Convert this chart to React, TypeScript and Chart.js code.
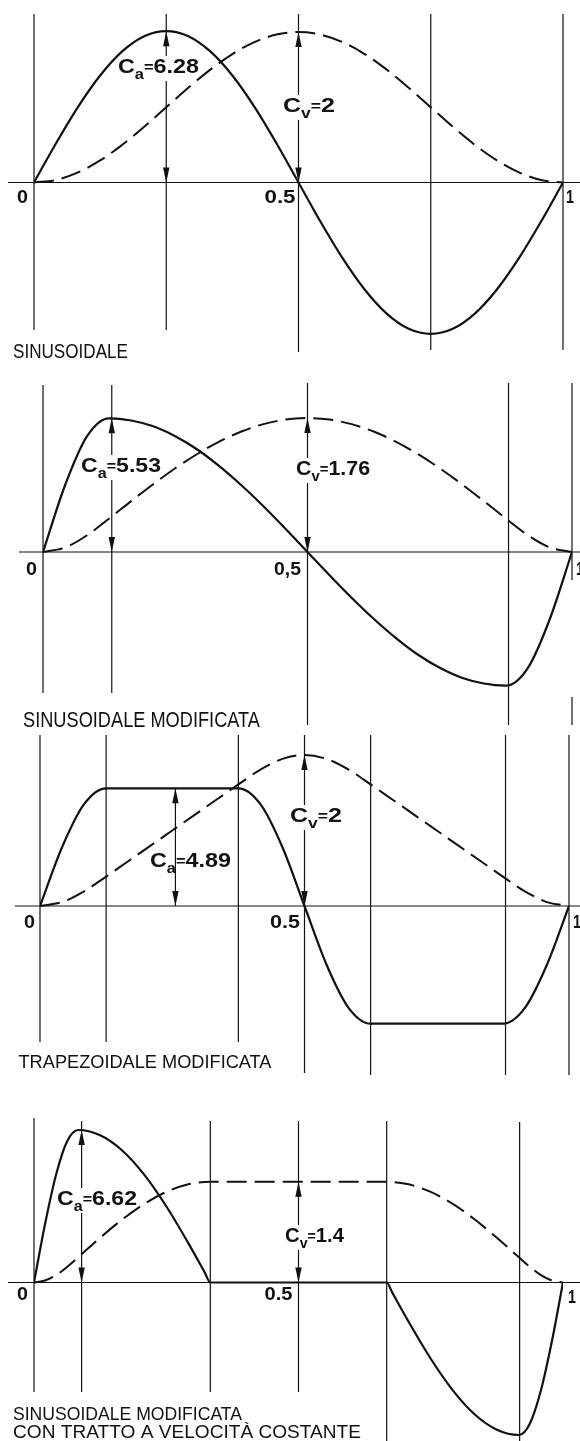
import React, { useEffect, useRef } from "react";
import { Chart, registerables } from "chart.js";

Chart.register(...registerables);

// ---------- DATA ----------
// time fraction samples used by the first three laws
const tSteps = [0, 0.0417, 0.0833, 0.125, 0.1667, 0.2083, 0.25, 0.2917, 0.3333, 0.375, 0.4167, 0.4583, 0.5,
  0.5417, 0.5833, 0.625, 0.6667, 0.7083, 0.75, 0.7917, 0.8333, 0.875, 0.9167, 0.9583, 1];

// 1) SINUSOIDALE
const sinAcc = [0, 1.63, 3.14, 4.44, 5.44, 6.07, 6.28, 6.07, 5.44, 4.44, 3.14, 1.63, 0,
  -1.63, -3.14, -4.44, -5.44, -6.07, -6.28, -6.07, -5.44, -4.44, -3.14, -1.63, 0];
const sinVel = [0, 0.034, 0.134, 0.293, 0.5, 0.741, 1, 1.259, 1.5, 1.707, 1.866, 1.966, 2,
  1.966, 1.866, 1.707, 1.5, 1.259, 1, 0.741, 0.5, 0.293, 0.134, 0.034, 0];

// 2) SINUSOIDALE MODIFICATA
const modSinAcc = [0, 2.76, 4.79, 5.53, 5.44, 5.2, 4.79, 4.24, 3.55, 2.76, 1.89, 0.96, 0,
  -0.96, -1.89, -2.76, -3.55, -4.24, -4.79, -5.2, -5.44, -5.53, -4.79, -2.76, 0];
const modSinVel = [0, 0.059, 0.22, 0.44, 0.669, 0.891, 1.1, 1.288, 1.451, 1.583, 1.68, 1.74, 1.76,
  1.74, 1.68, 1.583, 1.451, 1.288, 1.1, 0.891, 0.669, 0.44, 0.22, 0.059, 0];

// 3) TRAPEZOIDALE MODIFICATA
const modTrapAcc = [0, 2.44, 4.23, 4.89, 4.89, 4.89, 4.89, 4.89, 4.89, 4.89, 4.23, 2.44, 0,
  -2.44, -4.23, -4.89, -4.89, -4.89, -4.89, -4.89, -4.89, -4.89, -4.23, -2.44, 0];
const modTrapVel = [0, 0.052, 0.194, 0.389, 0.593, 0.796, 1.0, 1.204, 1.407, 1.611, 1.806, 1.948, 2,
  1.948, 1.806, 1.611, 1.407, 1.204, 1.0, 0.796, 0.593, 0.389, 0.194, 0.052, 0];

// 4) SINUSOIDALE MODIFICATA CON TRATTO A VELOCITÀ COSTANTE
const tConstVel = [0, 0.0208, 0.0417, 0.0625, 0.0833, 0.125, 0.1667, 0.2083, 0.25, 0.2917, 0.3229, 0.3333,
  0.5, 0.6667, 0.6771, 0.7083, 0.75, 0.7917, 0.8333, 0.875, 0.9167, 0.9375, 0.9583, 0.9792, 1];
const constAcc = [0, 2.53, 4.68, 6.12, 6.62, 6.39, 5.73, 4.68, 3.31, 1.71, 0.43, 0,
  0, 0, -0.43, -1.71, -3.31, -4.68, -5.73, -6.39, -6.62, -6.12, -4.68, -2.53, 0];
const constVel = [0, 0.027, 0.103, 0.217, 0.351, 0.624, 0.878, 1.096, 1.263, 1.369, 1.402, 1.405,
  1.405, 1.405, 1.402, 1.369, 1.263, 1.096, 0.878, 0.624, 0.351, 0.217, 0.103, 0.027, 0];

// texts
const lawTitles = [
  ["SINUSOIDALE"],
  ["SINUSOIDALE MODIFICATA"],
  ["TRAPEZOIDALE MODIFICATA"],
  ["SINUSOIDALE MODIFICATA", "CON TRATTO A VELOCITÀ COSTANTE"],
];
const caValues = ["6.28", "5.53", "4.89", "6.62"];
const cvValues = ["2", "1.76", "2", "1.4"];
const tickLabels = [
  ["0", "0.5", "1"],
  ["0", "0,5", "1"],
  ["0", "0.5", "1"],
  ["0", "0.5", "1"],
];
// vertical reference lines (time fractions)
const gridT = [
  [0, 0.25, 0.5, 0.75, 1],
  [0, 0.13, 0.5, 0.88, 1, 1],
  [0, 0.125, 0.375, 0.5, 0.625, 0.88, 1],
  [0, 0.09, 0.3333, 0.5, 0.6667, 0.918],
];
const caArrowT = [0.25, 0.13, 0.256, 0.09];
const cvArrowT = [0.5, 0.5, 0.5, 0.5];

const SERIES = [
  { t: tSteps, acc: sinAcc, vel: sinVel },
  { t: tSteps, acc: modSinAcc, vel: modSinVel },
  { t: tSteps, acc: modTrapAcc, vel: modTrapVel },
  { t: tConstVel, acc: constAcc, vel: constVel },
];

// ---------- LAYOUT (page pixels) ----------
type Box = { x: number; y: number; w: number };
type PanelLayout = {
  top: number; h: number; x0: number; x1: number; axis: number; kA: number; kV: number; axisFrom: number;
  grid: [number, number][]; caLine: boolean;
  ca: Box; cv: Box; ticks: Box[]; titles: (Box & { size: number })[];
};

const PANELS: PanelLayout[] = [
  {
    top: 0, h: 362, x0: 34, x1: 563, axis: 182.5, kA: 24.1, kV: 75.25, axisFrom: 8,
    grid: [[14, 330], [14, 330], [14, 352], [14, 350], [14, 350]], caLine: false,
    ca: { x: 118, y: 73, w: 81 }, cv: { x: 283, y: 112, w: 52 },
    ticks: [{ x: 17, y: 203, w: 11 }, { x: 264.5, y: 203, w: 31 }, { x: 566, y: 203, w: 8 }],
    titles: [{ x: 13, y: 358, w: 115, size: 21 }],
  },
  {
    top: 362, h: 368, x0: 43, x1: 572, axis: 552, kA: 24.18, kV: 76.1, axisFrom: 19,
    grid: [[385, 693], [385, 693], [383, 725], [383, 725], [383, 580], [697, 725]], caLine: false,
    ca: { x: 81, y: 472, w: 80 }, cv: { x: 296, y: 475, w: 74 },
    ticks: [{ x: 26, y: 575, w: 11 }, { x: 274, y: 575, w: 27 }, { x: 576, y: 575, w: 8 }],
    titles: [{ x: 23, y: 727, w: 237, size: 22 }],
  },
  {
    top: 730, h: 350, x0: 40, x1: 569, axis: 906, kA: 24.07, kV: 75.5, axisFrom: 15,
    grid: [[735, 1042], [735, 1042], [735, 1042], [735, 1073], [735, 1075], [735, 1075], [735, 1075]], caLine: true,
    ca: { x: 150, y: 867, w: 81 }, cv: { x: 290, y: 822, w: 52 },
    ticks: [{ x: 24, y: 928, w: 11 }, { x: 270, y: 928, w: 30 }, { x: 573, y: 928, w: 8 }],
    titles: [{ x: 18.5, y: 1068, w: 253, size: 19 }],
  },
  {
    top: 1080, h: 361, x0: 34, x1: 563, axis: 1282.5, kA: 23.04, kV: 71.7, axisFrom: 8,
    grid: [[1118, 1392], [1121, 1392], [1121, 1392], [1121, 1392], [1121, 1441], [1122, 1441]], caLine: false,
    ca: { x: 57, y: 1205, w: 80 }, cv: { x: 285, y: 1242, w: 59 },
    ticks: [{ x: 17, y: 1300, w: 11 }, { x: 264.5, y: 1300, w: 28 }, { x: 568, y: 1303, w: 8 }],
    titles: [{ x: 13, y: 1420, w: 229, size: 19 }, { x: 13, y: 1438, w: 348, size: 19 }],
  },
];

const INK = "#111";
const FONT = '"Liberation Sans", Arial, Helvetica, sans-serif';

type Part = { text: string; font: string; dy: number };

function drawParts(ctx: CanvasRenderingContext2D, parts: Part[], x: number, y: number, targetW?: number) {
  let natural = 0;
  const widths = parts.map((p) => {
    ctx.font = p.font;
    const w = ctx.measureText(p.text).width;
    natural += w;
    return w;
  });
  const sx = targetW ? targetW / natural : 1;
  ctx.save();
  ctx.translate(x, y);
  ctx.scale(sx, 1);
  ctx.fillStyle = INK;
  ctx.textBaseline = "alphabetic";
  ctx.textAlign = "left";
  let cx = 0;
  parts.forEach((p, i) => {
    ctx.font = p.font;
    ctx.fillText(p.text, cx, p.dy);
    cx += widths[i];
  });
  ctx.restore();
}

function coeffParts(sub: string, value: string): Part[] {
  return [
    { text: "C", font: `bold 20px ${FONT}`, dy: 0 },
    { text: sub, font: `bold 14px ${FONT}`, dy: 6 },
    { text: "=", font: `bold 14px ${FONT}`, dy: -1 },
    { text: value, font: `bold 20px ${FONT}`, dy: 0 },
  ];
}

function arrowHead(ctx: CanvasRenderingContext2D, x: number, tipY: number, up: boolean) {
  const len = 15;
  const hw = 3.2;
  const baseY = up ? tipY + len : tipY - len;
  ctx.beginPath();
  ctx.moveTo(x, tipY);
  ctx.lineTo(x - hw, baseY);
  ctx.lineTo(x + hw, baseY);
  ctx.closePath();
  ctx.fill();
}

function Panel({ idx }: { idx: number }) {
  const ref = useRef<HTMLCanvasElement | null>(null);
  const p = PANELS[idx];

  useEffect(() => {
    const canvas = ref.current;
    if (!canvas) return;
    const s = SERIES[idx];
    const padTop = 4;
    const padBottom = 4;
    const axisC = p.axis - p.top;
    const chartBottom = p.h - padBottom;
    const aMax = (axisC - padTop) / p.kA;
    const aMin = -(chartBottom - axisC) / p.kA;
    const vMax = (axisC - padTop) / p.kV;
    const vMin = -(chartBottom - axisC) / p.kV;
    const caPeak = Math.max(...s.acc);
    const cvPeak = Math.max(...s.vel);

    const decor = {
      id: "decor" + idx,
      beforeDatasetsDraw(chart: any) {
        const ctx: CanvasRenderingContext2D = chart.ctx;
        const xs = chart.scales.x;
        const ya = chart.scales.y;
        const zeroY = ya.getPixelForValue(0);
        ctx.save();
        ctx.strokeStyle = INK;
        ctx.lineWidth = 1.2;
        // horizontal axis
        ctx.beginPath();
        ctx.moveTo(p.axisFrom, zeroY);
        ctx.lineTo(580, zeroY);
        ctx.stroke();
        // vertical reference lines
        gridT[idx].forEach((t, i) => {
          const [a, b] = p.grid[i];
          const x = xs.getPixelForValue(t);
          ctx.beginPath();
          ctx.moveTo(x, a - p.top);
          ctx.lineTo(x, b - p.top);
          ctx.stroke();
        });
        // white backgrounds behind coefficient labels
        ctx.fillStyle = "#fff";
        [p.ca, p.cv].forEach((b) => {
          ctx.fillRect(b.x - 2, b.y - p.top - 17, b.w + 4, 25);
        });
        ctx.restore();
      },
      afterDatasetsDraw(chart: any) {
        const ctx: CanvasRenderingContext2D = chart.ctx;
        const xs = chart.scales.x;
        const ya = chart.scales.y;
        const yv = chart.scales.y2;
        const zeroY = ya.getPixelForValue(0);
        ctx.save();
        ctx.fillStyle = INK;
        ctx.strokeStyle = INK;
        ctx.lineWidth = 1.2;
        // Ca arrow
        const xa = xs.getPixelForValue(caArrowT[idx]);
        const ta = ya.getPixelForValue(caPeak);
        if (p.caLine) {
          ctx.beginPath();
          ctx.moveTo(xa, ta);
          ctx.lineTo(xa, zeroY);
          ctx.stroke();
        }
        arrowHead(ctx, xa, ta, true);
        arrowHead(ctx, xa, zeroY, false);
        // Cv arrow
        const xv = xs.getPixelForValue(cvArrowT[idx]);
        const tv = yv.getPixelForValue(cvPeak);
        arrowHead(ctx, xv, tv, true);
        arrowHead(ctx, xv, zeroY, false);
        ctx.restore();

        // coefficient labels
        drawParts(ctx, coeffParts("a", caValues[idx]), p.ca.x, p.ca.y - p.top, p.ca.w);
        drawParts(ctx, coeffParts("v", cvValues[idx]), p.cv.x, p.cv.y - p.top, p.cv.w);
        // tick labels
        tickLabels[idx].forEach((lbl, i) => {
          const b = p.ticks[i];
          drawParts(ctx, [{ text: lbl, font: `bold 19px ${FONT}`, dy: 0 }], b.x, b.y - p.top, b.w);
        });
        // titles
        lawTitles[idx].forEach((txt, i) => {
          const b = p.titles[i];
          drawParts(ctx, [{ text: txt, font: `${b.size}px ${FONT}`, dy: 0 }], b.x, b.y - p.top, b.w);
        });
      },
    };

    const chart = new Chart(canvas, {
      type: "line",
      data: {
        datasets: [
          {
            label: "accelerazione",
            data: s.t.map((t, i) => ({ x: t, y: s.acc[i] })),
            yAxisID: "y",
            borderColor: INK,
            borderWidth: 2.2,
            pointRadius: 0,
            fill: false,
            cubicInterpolationMode: "monotone",
          },
          {
            label: "velocità",
            data: s.t.map((t, i) => ({ x: t, y: s.vel[i] })),
            yAxisID: "y2",
            borderColor: INK,
            borderWidth: 2,
            borderDash: [20, 8],
            pointRadius: 0,
            fill: false,
            cubicInterpolationMode: "monotone",
          },
        ],
      },
      options: {
        animation: false,
        responsive: false,
        maintainAspectRatio: false,
        events: [],
        layout: { padding: { left: p.x0, right: 580 - p.x1, top: padTop, bottom: padBottom } },
        scales: {
          x: { type: "linear", min: 0, max: 1, display: false },
          y: { type: "linear", min: aMin, max: aMax, display: false },
          y2: { type: "linear", min: vMin, max: vMax, display: false },
        },
        plugins: { legend: { display: false }, tooltip: { enabled: false } },
      },
      plugins: [decor],
    } as any);

    return () => chart.destroy();
  }, [idx]);

  return (
    <canvas
      ref={ref}
      width={580}
      height={p.h}
      style={{ position: "absolute", left: 0, top: p.top, width: 580, height: p.h, display: "block" }}
    />
  );
}

export default function App() {
  return (
    <div
      style={{
        position: "absolute",
        left: 0,
        top: 0,
        width: 580,
        height: 1441,
        background: "#fff",
        overflow: "hidden",
      }}
    >
      {PANELS.map((_, i) => (
        <Panel key={i} idx={i} />
      ))}
    </div>
  );
}
